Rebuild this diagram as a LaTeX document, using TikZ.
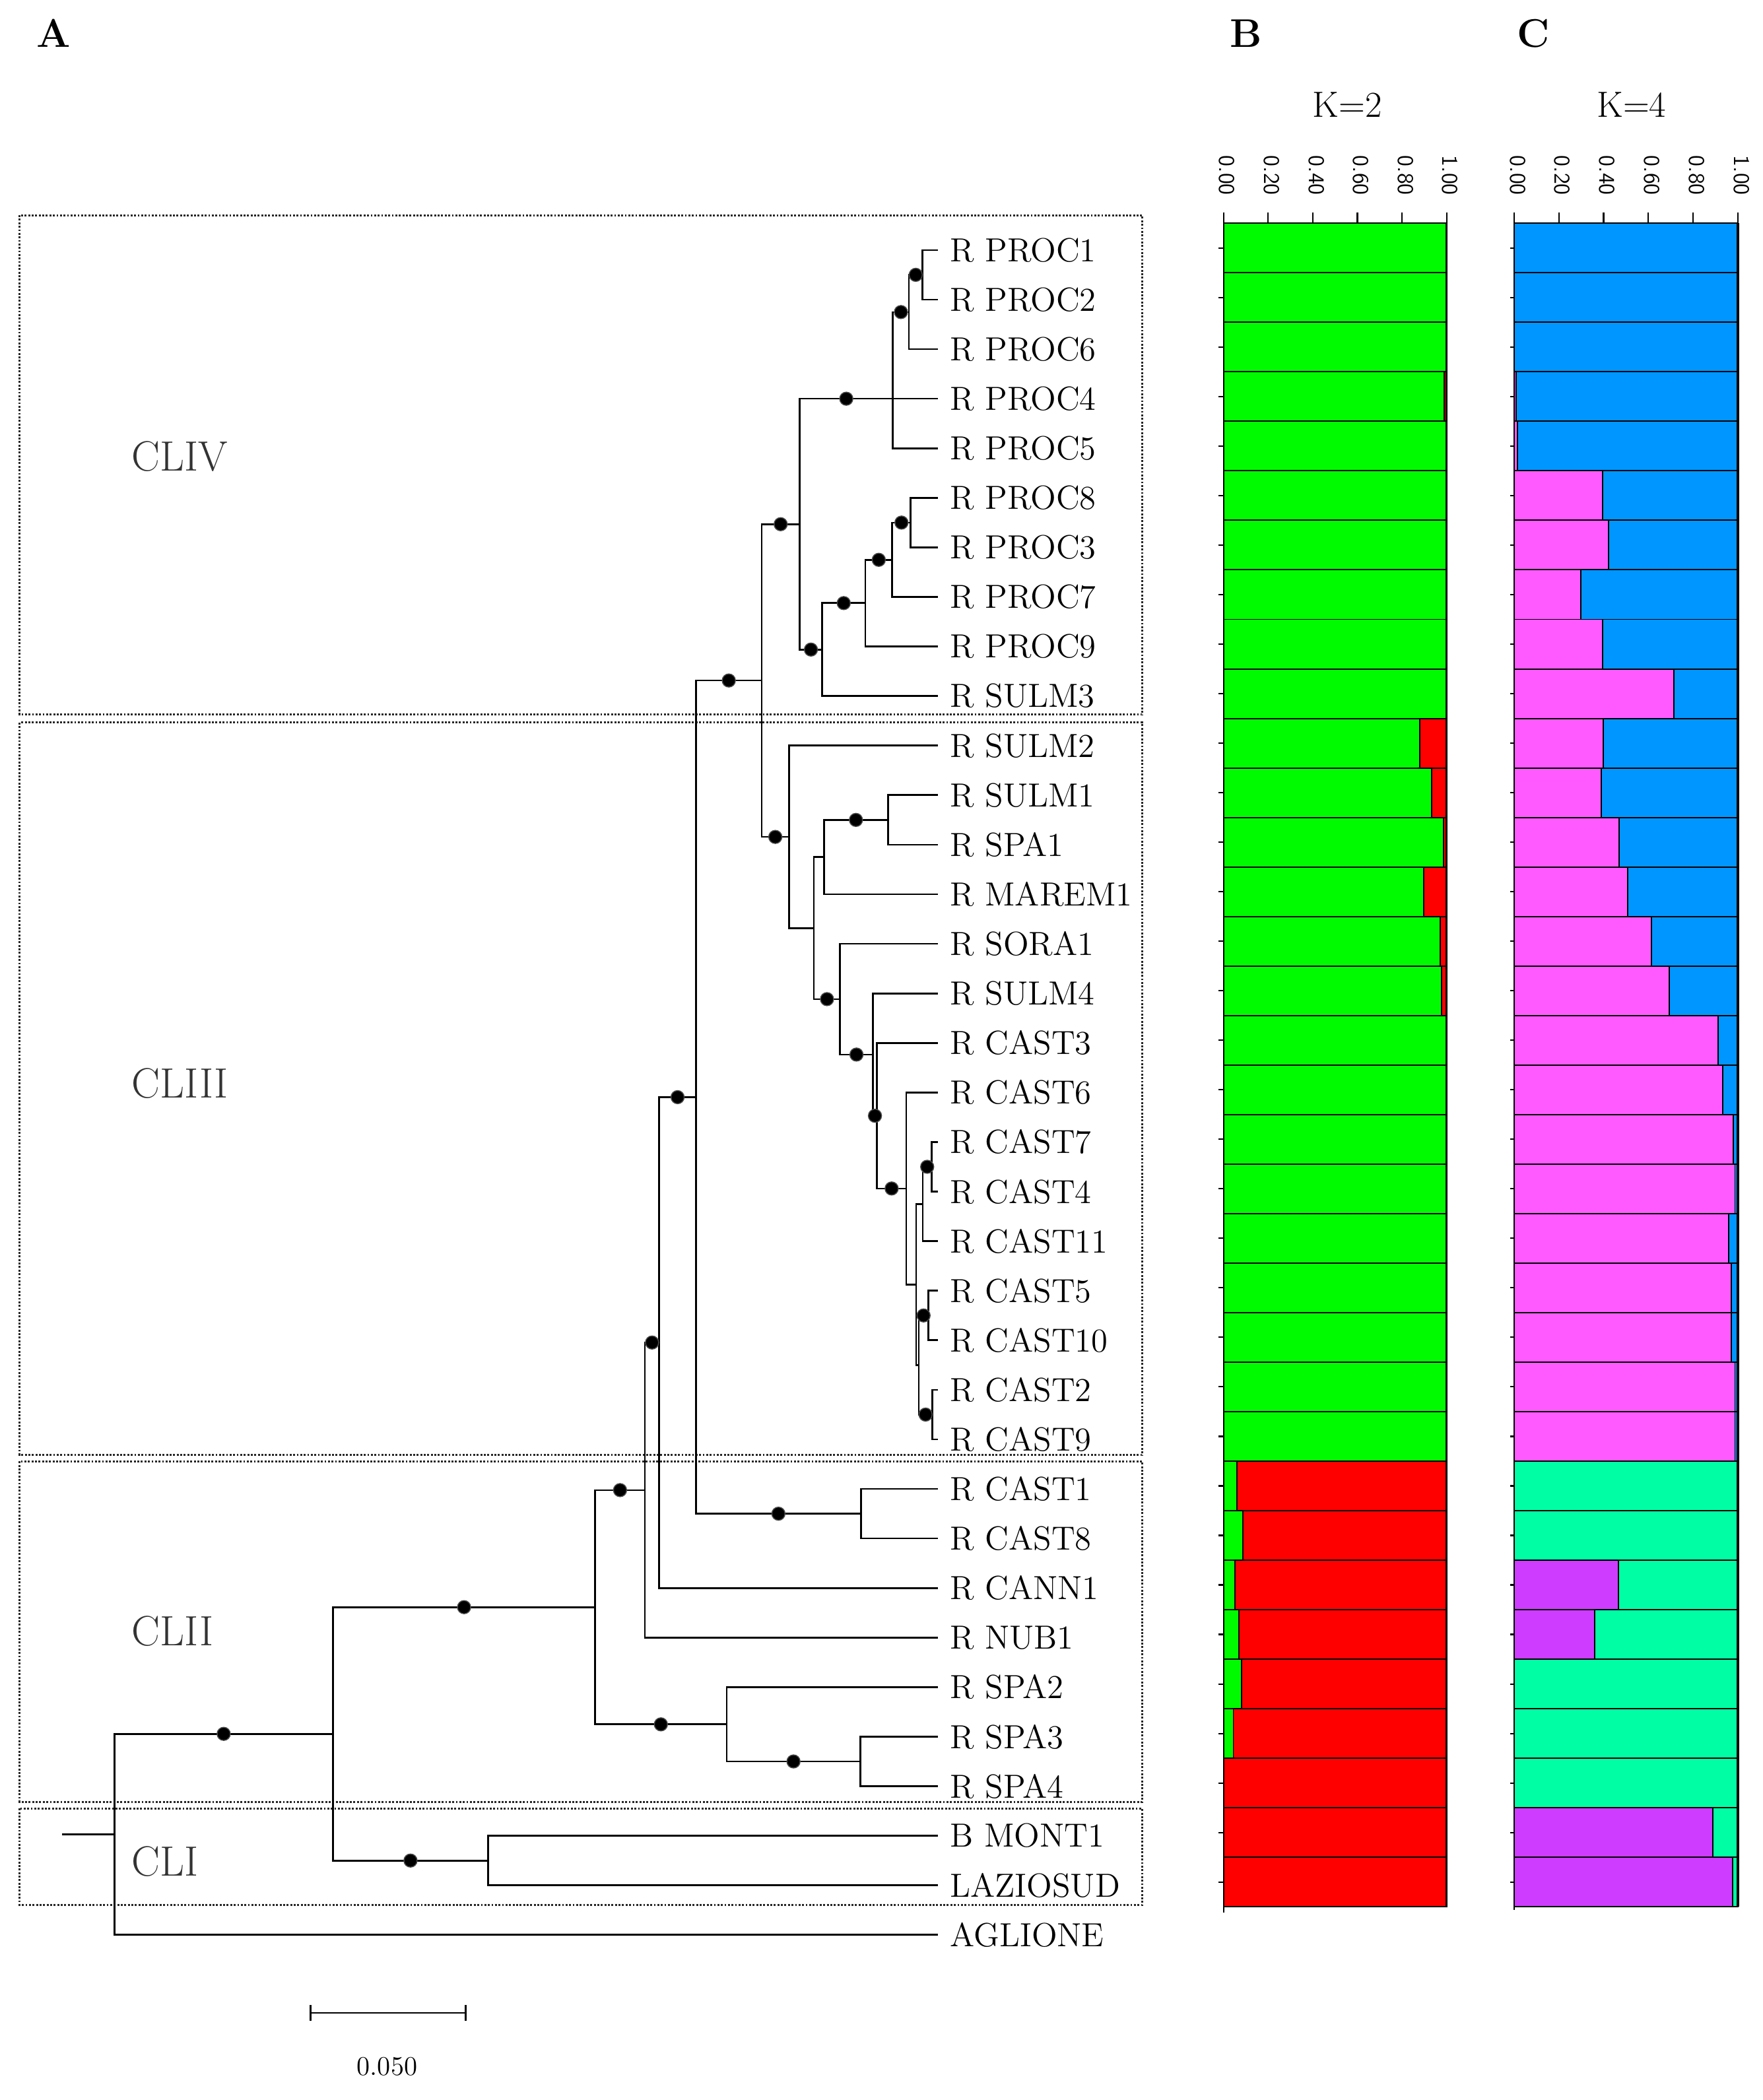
\documentclass[tikz,border=0pt]{standalone}
\usepackage{tikz}
\usetikzlibrary{calc}
\definecolor{kgreen}{RGB}{0,250,0}
\definecolor{kred}{RGB}{255,0,0}
\definecolor{kblue}{RGB}{0,150,255}
\definecolor{kpink}{RGB}{255,90,255}
\definecolor{kspring}{RGB}{0,255,165}
\definecolor{kpurple}{RGB}{205,60,255}

\begin{document}
\begin{tikzpicture}[
  x=0.02cm, y=-0.02cm,
  branch/.style={line width=0.75pt},
  supp/.style={circle,fill=black,draw=black!70,line width=0.4pt,inner sep=0pt,minimum size=5.6pt},
  leaf/.style={anchor=west,inner sep=0pt,font=\fontsize{14.2}{17}\selectfont},
  clade/.style={anchor=west,inner sep=0pt,text=black!80,font=\fontsize{18}{21}\selectfont},
  cbox/.style={draw=black!85,line width=0.85pt,dash pattern=on 0.8pt off 0.7pt},
  panel/.style={inner sep=0pt,font=\fontsize{17}{20}\selectfont\bfseries},
  seg/.style={draw=black,line width=0.55pt},
  axtick/.style={line width=0.6pt},
  ticklab/.style={rotate=-90,anchor=west,inner sep=0pt,font=\sffamily\fontsize{9.5}{11}\selectfont}
]
  \useasboundingbox (0,0) rectangle (1316,1568);

  % panel letters
  \node[panel] (lblA) at (40,25) {A};
  \node[panel] (lblB) at (930,25) {B};
  \node[panel] (lblC) at (1145,25) {C};

  % clusters
  \draw[cbox] (14.7,160.7) rectangle (852.7,533.6);
  \draw[cbox] (14.7,539.5) rectangle (852.7,1086.4);
  \draw[cbox] (14.7,1091.2) rectangle (852.7,1345.4);
  \draw[cbox] (14.7,1350.4) rectangle (852.7,1422.5);
  \node[clade] (cliv) at (98,341) {CLIV};
  \node[clade] (cliii) at (98,809) {CLIII};
  \node[clade] (clii) at (98,1218) {CLII};
  \node[clade] (cli) at (98,1390) {CLI};

  % leaves
  \foreach \name [count=\i from 0] in {R PROC1,R PROC2,R PROC6,R PROC4,R PROC5,R PROC8,
      R PROC3,R PROC7,R PROC9,R SULM3,R SULM2,R SULM1,R SPA1,R MAREM1,R SORA1,R SULM4,
      R CAST3,R CAST6,R CAST7,R CAST4,R CAST11,R CAST5,R CAST10,R CAST2,R CAST9,
      R CAST1,R CAST8,R CANN1,R NUB1,R SPA2,R SPA3,R SPA4,B MONT1,LAZIOSUD,AGLIONE} {
    \coordinate (t\i) at (700,{186.7+37*\i});
    \node[leaf] (l\i) at (709,{186.7+37*\i}) {\name};
  }

  % internal nodes
  \coordinate (stub) at (46.2,1369.7);
  \coordinate (root) at (85.4,1369.7);
  \coordinate (nb) at (248.6,1294.6);
  \coordinate (b1) at (364.3,1389.2);
  \coordinate (nc) at (444.3,1200.0);
  \coordinate (nd) at (481.5,1112.6);
  \coordinate (ne) at (492.1,1002.4);
  \coordinate (nf) at (519.6,819.2);
  \coordinate (s1) at (542.5,1287.5);
  \coordinate (s2) at (642.3,1315.2);
  \coordinate (c18) at (642.7,1130.2);
  \coordinate (ng) at (568.6,508.1);
  \coordinate (nproc) at (597,391.4);
  \coordinate (niii) at (589,624.9);
  \coordinate (pa) at (666.6,297.7);
  \coordinate (pa1) at (678.6,233.0);
  \coordinate (pa2) at (688.7,205.2);
  \coordinate (pb) at (613.8,485.0);
  \coordinate (pb1) at (646,450.3);
  \coordinate (pb2) at (666.1,418.0);
  \coordinate (pb3) at (679.9,390.2);
  \coordinate (q1) at (607.6,693.0);
  \coordinate (q2) at (615.1,640.0);
  \coordinate (q3) at (662.9,612.2);
  \coordinate (q4) at (627.2,746.0);
  \coordinate (q5) at (651.6,787.4);
  \coordinate (q6) at (654.8,833.1);
  \coordinate (q7) at (676.5,887.4);
  \coordinate (q8) at (684,959.1);
  \coordinate (q9) at (688.9,899.0);
  \coordinate (q10) at (686,1019.2);
  \coordinate (q11) at (695.5,871.2);
  \coordinate (q12) at (693,982.2);
  \coordinate (q13) at (696,1056.2);

  % branches
  \draw[branch] (stub) -- (root);
  \foreach \p/\c in {root/nb,root/t34,nb/nc,nb/b1,b1/t32,b1/t33,nc/nd,nc/s1,s1/t29,s1/s2,
      s2/t30,s2/t31,nd/ne,nd/t28,ne/nf,ne/t27,nf/ng,nf/c18,c18/t25,c18/t26,ng/nproc,ng/niii,
      nproc/pa,nproc/pb,pa/pa1,pa/t3,pa/t4,pa1/pa2,pa1/t2,pa2/t0,pa2/t1,pb/pb1,pb/t9,
      pb1/pb2,pb1/t8,pb2/pb3,pb2/t7,pb3/t5,pb3/t6,niii/t10,niii/q1,q1/q2,q1/q4,q2/q3,q2/t13,
      q3/t11,q3/t12,q4/t14,q4/q5,q5/t15,q5/q6,q6/t16,q6/q7,q7/t17,q7/q8,q8/q9,q8/q10,
      q9/q11,q9/t20,q11/t18,q11/t19,q10/q12,q10/q13,q12/t21,q12/t22,q13/t23,q13/t24}
    \draw[branch] (\p) |- (\c);

  % support dots
  \foreach \p/\c in {root/nb,nb/nc,nb/b1,nc/nd,nc/s1,s1/s2,nd/ne,ne/nf,nf/ng,nf/c18,
      ng/nproc,ng/niii,nproc/pa,nproc/pb,pa/pa1,pa1/pa2,pb/pb1,pb1/pb2,pb2/pb3,q1/q4,
      q2/q3,q4/q5,q5/q6,q6/q7,q9/q11,q10/q12,q10/q13}
    \path (\p) |- node[supp,pos=0.75] (d\c) {} (\c);

  % scale bar
  \coordinate (sbl) at (231.8,1503);
  \coordinate (sbr) at (347.6,1503);
  \draw[branch] (sbl) -- (sbr);
  \draw[branch] ($(sbl)+(0,-6)$) -- ($(sbl)+(0,6)$);
  \draw[branch] ($(sbr)+(0,-6)$) -- ($(sbr)+(0,6)$);
  \node[font=\fontsize{11.5}{13}\selectfont] (sblab) at (289,1543) {0.050};

  % K=2
  \node[font=\fontsize{15.5}{18}\selectfont] (k2) at (1005.7,78.4) {K=2};
  \foreach \g [count=\i from 0] in {1,1,1,0.99,1,1,1,1,1,1,0.879,0.934,0.985,0.898,0.972,
      0.978,1,1,1,1,1,1,1,1,1,0.059,0.088,0.051,0.068,0.081,0.044,0,0,0} {
    \pgfmathsetmacro{\yt}{166.7+36.97*\i}
    \pgfmathsetmacro{\yb}{\yt+36.97}
    \pgfmathsetmacro{\xg}{913.4+166.6*\g}
    \draw[seg,fill=kgreen] (913.4,\yt) rectangle (\xg,\yb);
    \draw[seg,fill=kred] (\xg,\yt) rectangle (1080,\yb);
    \draw[axtick] (909.5,\yt+18.5) -- (913.4,\yt+18.5);
  }
  \draw[axtick] (913.4,158.5) -- (913.4,1428);
  \draw[line width=0.9pt] (1080,166.7) -- (1080,1423.8);

  % K=4
  \node[font=\fontsize{15.5}{18}\selectfont] (k4) at (1218,78.4) {K=4};
  \foreach \v [count=\i from 0] in {0,0,0,0.01,0.015,0.395,0.423,0.297,0.395,0.713,0.398,
      0.39,0.47,0.508,0.615,0.694,0.912,0.932,0.981,0.987,0.96,0.971,0.971,0.987,0.987,
      0,0,0.467,0.361,0,0,0,0.888,0.978} {
    \ifnum\i<25 \def\ca{kpink}\def\cb{kblue}\else \def\ca{kpurple}\def\cb{kspring}\fi
    \pgfmathsetmacro{\yt}{166.7+36.97*\i}
    \pgfmathsetmacro{\yb}{\yt+36.97}
    \pgfmathsetmacro{\xv}{1130.4+167*\v}
    \draw[seg,fill=\ca] (1130.4,\yt) rectangle (\xv,\yb);
    \draw[seg,fill=\cb] (\xv,\yt) rectangle (1297.4,\yb);
    \draw[axtick] (1127.6,\yt+18.5) -- (1130.4,\yt+18.5);
  }
  \draw[axtick] (1130.4,158.5) -- (1130.4,1426);
  \draw[line width=0.9pt] (1297.4,166.7) -- (1297.4,1423.8);

  % axes
  \foreach \k [count=\j from 0] in {0.00,0.20,0.40,0.60,0.80,1.00} {
    \draw[axtick] ({913.4+33.32*\j},158.5) -- ({913.4+33.32*\j},166.7);
    \node[ticklab] (tb\j) at ({916+33.32*\j},115.8) {\k};
    \draw[axtick] ({1130.4+33.4*\j},158.5) -- ({1130.4+33.4*\j},166.7);
    \node[ticklab] (tc\j) at ({1133+33.4*\j},115.8) {\k};
  }
\end{tikzpicture}
\end{document}
